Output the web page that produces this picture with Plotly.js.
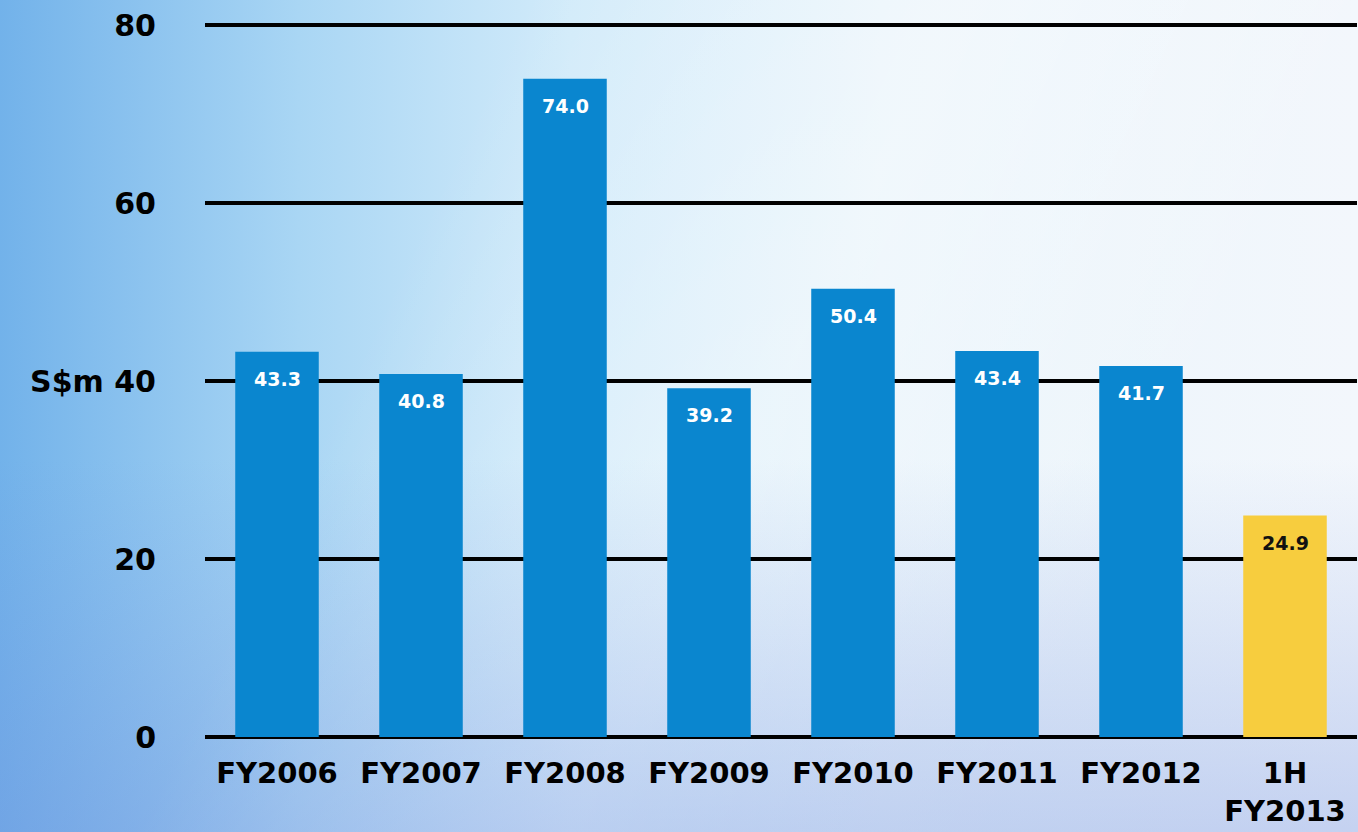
<!DOCTYPE html>
<html>
<head>
<meta charset="utf-8">
<script src="https://cdn.plot.ly/plotly-3.0.1.min.js"></script>
<style>
  html, body { margin: 0; padding: 0; width: 1358px; height: 832px; overflow: hidden; }
  body {
    background:
      linear-gradient(115deg, rgba(255,255,255,0) 30%, rgba(255,255,255,0.35) 55%, rgba(255,255,255,0) 80%),
      linear-gradient(to right, #72b2ea 0%, #a9d6f4 22%, #d2ebfa 42%, #e9f4fb 65%, #f3f7fc 100%);
  }
  #chart { width: 1358px; height: 832px; position: absolute; left: 0; top: 0; }
  #shade { position: absolute; left: 0; top: 0; width: 1358px; height: 832px;
    background: linear-gradient(to top, rgba(110,140,220,0.35) 0%, rgba(110,140,220,0) 45%); }
</style>
</head>
<body>
<div id="shade"></div>
<div id="chart"></div>
<script>
const categories = ["FY2006", "FY2007", "FY2008", "FY2009", "FY2010", "FY2011", "FY2012", "1H<br>FY2013"];
const values = [43.3, 40.8, 74.0, 39.2, 50.4, 43.4, 41.7, 24.9];
const barColors = ["#0a86cf", "#0a86cf", "#0a86cf", "#0a86cf", "#0a86cf", "#0a86cf", "#0a86cf", "#f7cd3e"];
const labelColors = ["#ffffff", "#ffffff", "#ffffff", "#ffffff", "#ffffff", "#ffffff", "#ffffff", "#111111"];
const tickVals = [0, 20, 40, 60, 80];
const tickText = ["0", "20", "S$m 40", "60", "80"];

const FONT = "DejaVu Sans, Arial Black, sans-serif";

const trace = {
  type: "bar",
  x: categories,
  y: values,
  marker: { color: barColors, line: { width: 0 } },
  hoverinfo: "none"
};

const annotations = categories.map((c, i) => ({
  x: c, y: values[i], xref: "x", yref: "y",
  text: values[i].toFixed(1),
  showarrow: false,
  yanchor: "middle",
  yshift: -27,
  font: { family: FONT, size: 19, color: labelColors[i], weight: "bold" }
}));

const layout = {
  width: 1358, height: 832,
  margin: { l: 205, r: 1, t: 20, b: 95 },
  paper_bgcolor: "rgba(0,0,0,0)",
  plot_bgcolor: "rgba(0,0,0,0)",
  bargap: 0.42,
  showlegend: false,
  annotations: annotations,
  xaxis: {
    type: "category",
    showgrid: false,
    showline: false,
    zeroline: false,
    ticks: "",
    ticklabelstandoff: 16,
    tickfont: { family: FONT, size: 29, color: "#000", weight: "bold" }
  },
  yaxis: {
    range: [0, 80.6],
    tickvals: tickVals,
    ticktext: tickText,
    showgrid: true,
    gridcolor: "#000",
    gridwidth: 4,
    zeroline: true,
    zerolinecolor: "#000",
    zerolinewidth: 4,
    showline: false,
    ticks: "",
    ticklabelstandoff: 48,
    tickfont: { family: FONT, size: 30, color: "#000", weight: "bold" }
  }
};

Plotly.newPlot("chart", [trace], layout, { displayModeBar: false, staticPlot: true });
</script>
</body>
</html>
